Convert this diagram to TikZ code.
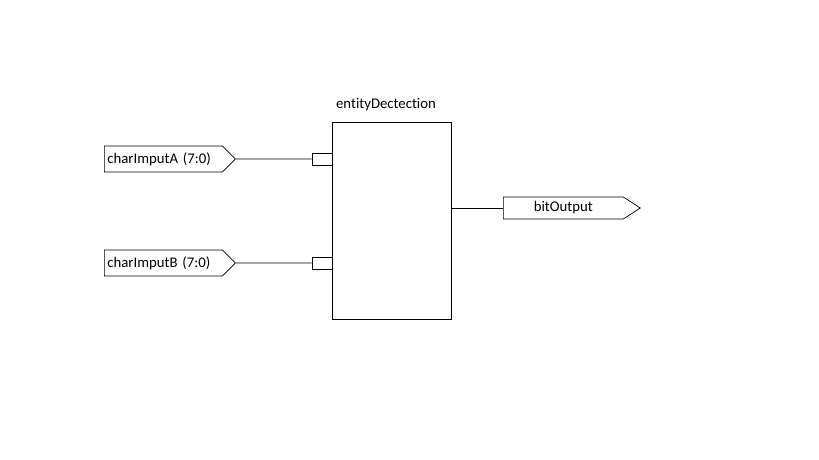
\documentclass[tikz,border=0pt]{standalone}
\usepackage{fontspec}
\setmainfont[Ligatures=NoCommon]{Carlito}
\usetikzlibrary{shapes.symbols}

\begin{document}
\begin{tikzpicture}[x=0.02cm, y=-0.02cm, font=\fontsize{8.4}{10}\selectfont,
	pin/.style={signal, signal to=east, draw, inner xsep=0.06cm, inner ysep=0pt},
	port/.style={rectangle, draw, minimum width=0.4cm, minimum height=0.24cm, inner sep=0pt}]
	\useasboundingbox (0,0) rectangle (819,460);
	\node (box) at (391.5,220.5) [rectangle, draw, minimum width=2.38cm, minimum height=3.94cm] {};
	\node (title) at (386,105) {entityDectection};
	\node (inA) at (104,159) [pin, anchor=west, signal pointer angle=90, minimum height=0.52cm, text width=2.24cm, align=left] {charImputA (7:0)};
		\node (portA) at (322,159) [port] {}		edge[-](inA);
	\node (inB) at (104,263) [pin, anchor=west, signal pointer angle=90, minimum height=0.52cm, text width=2.24cm, align=left] {charImputB (7:0)};
		\node (portB) at (322,263) [port] {}		edge[-](inB);
	\node (out) at (503,208) [pin, anchor=west, signal pointer angle=66, minimum height=0.44cm, text width=2.28cm, align=center] {bitOutput};
	\draw (out.west) -- (out.west -| box.east);
\end{tikzpicture}
\end{document}
